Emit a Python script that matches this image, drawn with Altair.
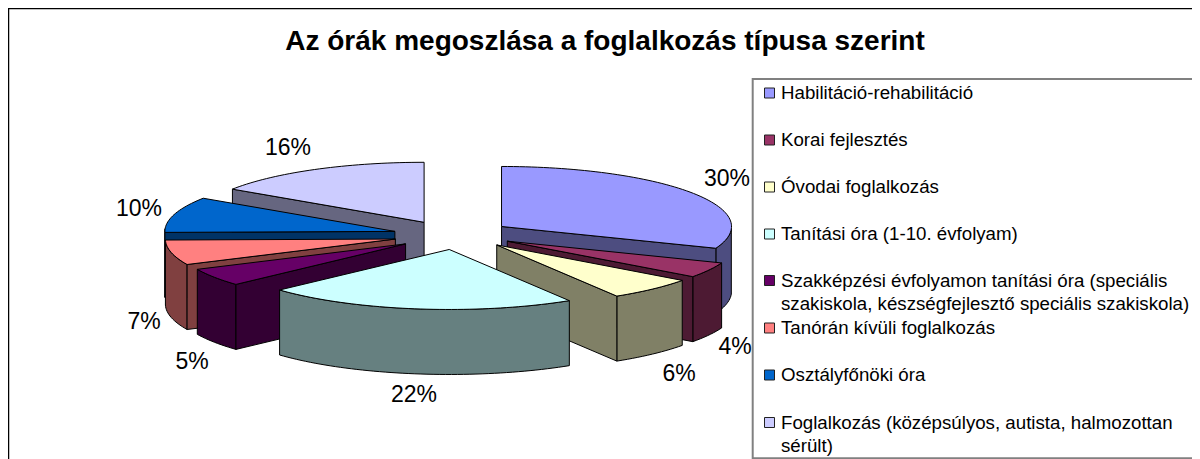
import math
import altair as alt
import pandas as pd

# ---- data ----
CATEGORIES = [
    "Habilitáció-rehabilitáció",
    "Korai fejlesztés",
    "Óvodai foglalkozás",
    "Tanítási óra (1-10. évfolyam)",
    "Szakképzési évfolyamon tanítási óra (speciális",
    "Tanórán kívüli foglalkozás",
    "Osztályfőnöki óra",
    "Foglalkozás (középsúlyos, autista, halmozottan",
]
SECOND_LINES = {
    4: "szakiskola, készségfejlesztő speciális szakiskola)",
    7: "sérült)",
}
VALUES = [30, 4, 6, 22, 5, 7, 10, 16]
TOP_COLORS = ["#9999FF", "#993366", "#FFFFCC", "#CCFFFF", "#660066", "#FF8080", "#0066CC", "#CCCCFF"]
SIDE_COLORS = ["#4D4D80", "#4D1A33", "#808066", "#668080", "#330033", "#804040", "#003366", "#666680"]

# ---- layout (image pixels) ----
W, H = 1184, 451
CX, CY = 453, 235        # pie centre
EX, EY = 60, 14.5        # explosion offset
RX, RY = 230, 60         # ellipse radii
DEPTH = 65
WARP = 5                 # degrees of front-side perspective warp
PAINT_ORDER = [7, 0, 6, 5, 1, 4, 2, 3]
LABEL_POS = [(727, 179), (735, 346.5), (679, 373.5), (414, 394.5), (192, 361.5), (144, 322), (139, 209), (288, 148)]
LEGEND_Y = [93, 140, 187, 234, 280.5, 328, 375, 422.5]
SECOND_DY = 23
LEG_BOX = (752.7, 79, 1210, 458.3)


def warp(a):
    r = math.radians(a)
    return math.radians(a + WARP * (1 - math.cos(r)) / 2)


total = sum(VALUES)
starts, c = [], 0
for v in VALUES:
    starts.append(c / total * 360)
    c += v

rows = []
pid = 0


def add_poly(pts, color):
    global pid
    pts = pts + [pts[0]]
    for i, (x, y) in enumerate(pts):
        rows.append({"x": x, "y": y, "i": i, "poly": pid, "fillc": color})
    pid += 1


for s in PAINT_ORDER:
    a0 = starts[s]
    a1 = a0 + VALUES[s] / total * 360
    mid = math.radians((a0 + a1) / 2)
    cx = CX + EX * math.sin(mid)
    cy = CY - EY * math.cos(mid)
    n = max(4, int((a1 - a0) / 1.5))
    angs = [a0 + (a1 - a0) * k / n for k in range(n + 1)]

    def rim(a, dz=0):
        r = warp(a)
        return (cx + RX * math.sin(r), cy - RY * math.cos(r) + dz)

    # outer wall: front-facing portion only
    lo, hi = max(a0, 90), min(a1, 270)
    if hi > lo:
        m = max(2, int((hi - lo) / 1.5))
        wall = [lo + (hi - lo) * k / m for k in range(m + 1)]
        add_poly([rim(a) for a in wall] + [rim(a, DEPTH) for a in reversed(wall)], SIDE_COLORS[s])
    # radial cut faces
    for a, visible in ((a0, math.sin(math.radians(a0)) < -1e-6), (a1, math.sin(math.radians(a1)) > 1e-6)):
        if visible:
            add_poly([(cx, cy), rim(a), rim(a, DEPTH), (cx, cy + DEPTH)], SIDE_COLORS[s])
    # top face
    add_poly([(cx, cy)] + [rim(a) for a in angs], TOP_COLORS[s])

poly_df = pd.DataFrame(rows)

x_scale = alt.Scale(domain=[8, 8 + W])
y_scale = alt.Scale(domain=[8 + H, 8])
X = alt.X("x:Q", scale=x_scale, axis=None)
Y = alt.Y("y:Q", scale=y_scale, axis=None)

slices = alt.Chart(poly_df).mark_line(stroke="black", strokeWidth=1, strokeJoin="round").encode(
    x=X, y=Y,
    fill=alt.Fill("fillc:N", scale=None),
    detail="poly:N",
    order="i:Q",
)

labels_df = pd.DataFrame({
    "x": [p[0] for p in LABEL_POS],
    "y": [p[1] for p in LABEL_POS],
    "t": [f"{v}%" for v in VALUES],
})
labels = alt.Chart(labels_df).mark_text(
    font="Liberation Sans", fontSize=23, color="black", align="center", baseline="middle"
).encode(x=X, y=Y, text="t:N")

box_df = pd.DataFrame([{"x": LEG_BOX[0], "y": LEG_BOX[1], "x2": LEG_BOX[2], "y2": LEG_BOX[3]}])
box = alt.Chart(box_df).mark_rect(fill="white", stroke="#808080", strokeWidth=2).encode(
    x=X, y=Y, x2="x2:Q", y2="y2:Q"
)

swatch_df = pd.DataFrame({"x": [769.5] * 8, "y": LEGEND_Y, "c": TOP_COLORS})
swatches = alt.Chart(swatch_df).mark_point(
    shape="square", filled=True, size=100, stroke="#222222", strokeWidth=1, opacity=1
).encode(x=X, y=Y, fill=alt.Fill("c:N", scale=None))

leg_rows = []
for i, name in enumerate(CATEGORIES):
    leg_rows.append({"x": 781, "y": LEGEND_Y[i], "t": name})
    if i in SECOND_LINES:
        leg_rows.append({"x": 781, "y": LEGEND_Y[i] + SECOND_DY, "t": SECOND_LINES[i]})
leg_text = alt.Chart(pd.DataFrame(leg_rows)).mark_text(
    font="Liberation Sans", fontSize=18.7, color="black", align="left", baseline="middle"
).encode(x=X, y=Y, text="t:N")

frame_df = pd.DataFrame([
    {"x": 8, "x2": 8 + W, "y": 8, "y2": 8},
    {"x": 8, "x2": 8, "y": 8, "y2": 8 + H},
])
frame = alt.Chart(frame_df).mark_rule(color="black", strokeWidth=2.5).encode(
    x=X, y=Y, x2="x2:Q", y2="y2:Q"
)

chart = alt.layer(frame, box, slices, labels, swatches, leg_text).properties(
    width=W, height=H, padding=0,
    autosize=alt.AutoSizeParams(type="none"),
    title=alt.TitleParams(
        "Az órák megoszlása a foglalkozás típusa szerint",
        font="Liberation Sans", fontSize=28, fontWeight="bold", color="black",
        anchor="middle", offset=0, dx=5, dy=71, baseline="alphabetic",
    ),
).configure_view(stroke=None).configure(background="white")

chart.save("out.html", embed_options={"renderer": "svg", "actions": False})
